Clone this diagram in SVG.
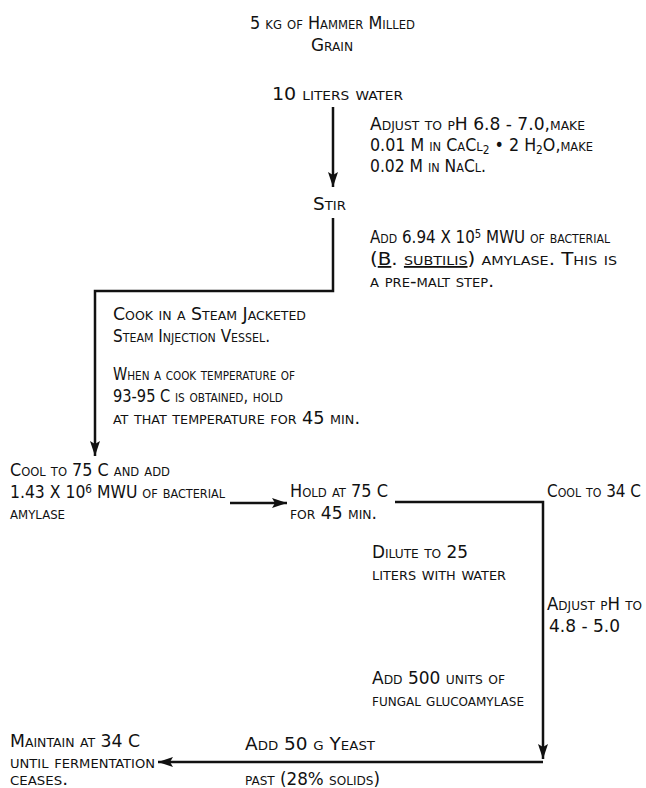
<svg xmlns="http://www.w3.org/2000/svg" width="646" height="788" viewBox="0 0 646 788">
<style>
text{font-family:"DejaVu Sans Condensed","Liberation Sans Narrow","Liberation Sans",sans-serif;font-variant:small-caps;font-size:18px;fill:#111}
.ln{stroke:#111;stroke-width:2.5;fill:none}
.sup{font-size:12px}
</style>
<defs>
<marker id="ah" markerUnits="userSpaceOnUse" markerWidth="16" markerHeight="12" refX="15" refY="5" orient="auto">
<path d="M0,0 L15,5 L0,10 L3,5 Z" fill="#111"/>
</marker>
</defs>
<rect width="646" height="788" fill="#fff"/>
<g id="connectors">
<path class="ln" d="M333,107 V187" marker-end="url(#ah)"/>
<path class="ln" d="M333,218 V291 H95 V456" marker-end="url(#ah)"/>
<path class="ln" d="M230,503 H287" marker-end="url(#ah)"/>
<path class="ln" d="M395,502 H543 V759" marker-end="url(#ah)"/>
<path class="ln" d="M543,762 H158" marker-end="url(#ah)"/>
</g>
<g id="grain">
<text x="250" y="29" textLength="165" lengthAdjust="spacingAndGlyphs">5 kg of Hammer Milled</text>
<text x="311" y="51" textLength="42" lengthAdjust="spacingAndGlyphs">Grain</text>
</g>
<g id="water"><text x="272" y="100" textLength="131" lengthAdjust="spacingAndGlyphs">10 liters water</text></g>
<g id="adjust1">
<text x="370" y="130" textLength="215" lengthAdjust="spacingAndGlyphs">Adjust to pH 6.8 - 7.0,make</text>
<text x="370" y="151" textLength="223" lengthAdjust="spacingAndGlyphs">0.01 M in CaCl<tspan class="sup" dy="3">2</tspan><tspan dy="-3"> • 2 H</tspan><tspan class="sup" dy="3">2</tspan><tspan dy="-3">O,make</tspan></text>
<text x="370" y="172" textLength="116" lengthAdjust="spacingAndGlyphs">0.02 M in NaCl.</text>
</g>
<g id="stir"><text x="313" y="210" textLength="33" lengthAdjust="spacingAndGlyphs">Stir</text></g>
<g id="add1">
<text x="370" y="243" textLength="240" lengthAdjust="spacingAndGlyphs">Add 6.94 X 10<tspan class="sup" dy="-5">5</tspan><tspan dy="5"> MWU of bacterial</tspan></text>
<text x="370" y="265" textLength="247" lengthAdjust="spacingAndGlyphs">(<tspan text-decoration="underline">B</tspan>. <tspan text-decoration="underline">subtilis</tspan>) amylase.  This is</text>
<text x="370" y="287" textLength="124" lengthAdjust="spacingAndGlyphs">a pre-malt step.</text>
</g>
<g id="cook">
<text x="113" y="320" textLength="193" lengthAdjust="spacingAndGlyphs">Cook in a Steam Jacketed</text>
<text x="113" y="342" textLength="157" lengthAdjust="spacingAndGlyphs">Steam Injection Vessel.</text>
<text x="113" y="380" textLength="182" lengthAdjust="spacingAndGlyphs">When a cook temperature of</text>
<text x="113" y="402" textLength="170" lengthAdjust="spacingAndGlyphs">93-95 C is obtained, hold</text>
<text x="113" y="424" textLength="247" lengthAdjust="spacingAndGlyphs">at that temperature for 45 min.</text>
</g>
<g id="cool75">
<text x="10" y="476" textLength="160" lengthAdjust="spacingAndGlyphs">Cool to 75 C and add</text>
<text x="10" y="498" textLength="215" lengthAdjust="spacingAndGlyphs">1.43 X 10<tspan class="sup" dy="-5">6</tspan><tspan dy="5"> MWU of bacterial</tspan></text>
<text x="10" y="519" textLength="55" lengthAdjust="spacingAndGlyphs">amylase</text>
</g>
<g id="hold">
<text x="290" y="497" textLength="98" lengthAdjust="spacingAndGlyphs">Hold at 75 C</text>
<text x="290" y="519" textLength="87" lengthAdjust="spacingAndGlyphs">for 45 min.</text>
</g>
<g id="cool34"><text x="547" y="497" textLength="94" lengthAdjust="spacingAndGlyphs">Cool to 34 C</text></g>
<g id="dilute">
<text x="372" y="558" textLength="96" lengthAdjust="spacingAndGlyphs">Dilute to 25</text>
<text x="372" y="580" textLength="134" lengthAdjust="spacingAndGlyphs">liters with water</text>
</g>
<g id="adjust2">
<text x="547" y="610" textLength="95" lengthAdjust="spacingAndGlyphs">Adjust pH to</text>
<text x="549" y="632" textLength="71" lengthAdjust="spacingAndGlyphs">4.8 - 5.0</text>
</g>
<g id="glucoamylase">
<text x="372" y="684" textLength="133" lengthAdjust="spacingAndGlyphs">Add 500 units of</text>
<text x="372" y="706" textLength="152" lengthAdjust="spacingAndGlyphs">fungal glucoamylase</text>
</g>
<g id="yeast">
<text x="245" y="750" textLength="130" lengthAdjust="spacingAndGlyphs">Add 50 g Yeast</text>
<text x="245" y="785" textLength="135" lengthAdjust="spacingAndGlyphs">past (28% solids)</text>
</g>
<g id="maintain">
<text x="10" y="747" textLength="130" lengthAdjust="spacingAndGlyphs">Maintain at 34 C</text>
<text x="10" y="768" textLength="145" lengthAdjust="spacingAndGlyphs">until fermentation</text>
<text x="10" y="785" textLength="58" lengthAdjust="spacingAndGlyphs">ceases.</text>
</g>
</svg>
